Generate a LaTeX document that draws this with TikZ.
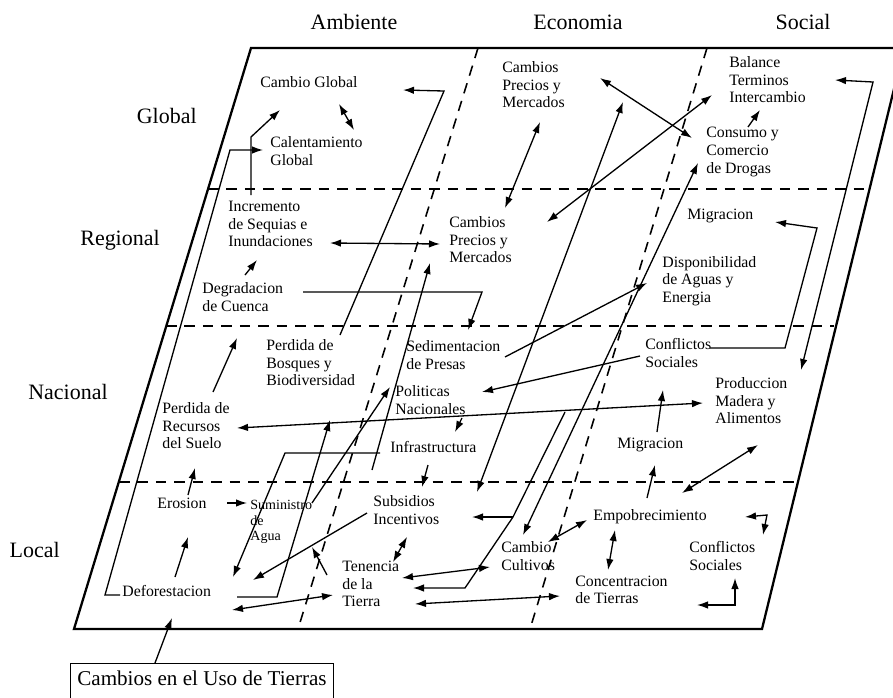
\documentclass[tikz,border=0pt]{standalone}
\usepackage{fontspec}
\setmainfont{Liberation Serif}
\usetikzlibrary{arrows.meta}
\tikzstyle{lbl}=[font=\fontsize{9}{10}\selectfont, align=left, inner sep=0pt, anchor=west]
\tikzstyle{hdr}=[font=\fontsize{12.5}{14}\selectfont, inner sep=0pt]
\tikzstyle{frame}=[line width=1.3pt, line join=miter]
\tikzstyle{sep}=[dash pattern=on 6pt off 4.5pt, line width=0.9pt]
\tikzstyle{wire}=[line width=0.75pt]
\tikzstyle{lnk}=[wire, -{Latex[length=2.2mm,width=1.5mm]}]
\tikzstyle{lnkb}=[wire, {Latex[length=2.2mm,width=1.5mm]}-{Latex[length=2.2mm,width=1.5mm]}]

\begin{document}
\begin{tikzpicture}[x=0.02cm, y=-0.02cm]
  \clip (0,0) rectangle (893,697);
  % Frame and grid
  \coordinate (TL) at (251,48);
  \coordinate (TR) at (904,48);
  \coordinate (BR) at (762,629);
  \coordinate (BL) at (74,629);
  \draw[frame] (TL) -- (TR) -- (BR) -- (BL) -- cycle;
  \draw[sep] (208,189) -- (866,189);
  \draw[sep] (166,326) -- (834,326);
  \draw[sep] (119,482) -- (796,482);
  \draw[sep] (478,48) -- (298,629);
  \draw[sep] (707,48) -- (530,629);
  % Headers
  \node[hdr] (amb) at (354,22) {Ambiente};
  \node[hdr] (eco) at (578,22) {Economia};
  \node[hdr] (soc) at (803,22) {Social};
  \node[hdr, anchor=east] (glo) at (197,116) {Global};
  \node[hdr, anchor=east] (reg) at (160,240) {Regional};
  \node[hdr, anchor=east] (nac) at (108,392) {Nacional};
  \node[hdr, anchor=east] (loc) at (60,550) {Local};
  % Global
  \node[lbl] (cg) at (260,82) {Cambio Global};
  \node[lbl] (cal) at (270,151) {Calentamiento\\Global};
  \node[lbl] (cpg) at (502,85) {Cambios\\Precios y\\Mercados};
  \node[lbl] (bal) at (729,80) {Balance\\Terminos\\Intercambio};
  \node[lbl] (cons) at (706,152) {Consumo y\\Comercio\\de Drogas};
  % Regional
  \node[lbl] (inc) at (228,224) {Incremento\\de Sequias e\\Inundaciones};
  \node[lbl] (deg) at (202,297) {Degradacion\\de Cuenca};
  \node[lbl] (cpr) at (449,240) {Cambios\\Precios y\\Mercados};
  \node[lbl] (migr) at (687,216) {Migracion};
  \node[lbl] (disp) at (662,281) {Disponibilidad\\de Aguas y\\Energia};
  % Nacional
  \node[lbl] (pbos) at (266,363) {Perdida de\\Bosques y\\Biodiversidad};
  \node[lbl] (prec) at (162,426) {Perdida de\\Recursos\\del Suelo};
  \node[lbl] (sed) at (406,355) {Sedimentacion\\de Presas};
  \node[lbl] (pol) at (395,400) {Politicas\\Nacionales};
  \node[lbl] (infra) at (390,447) {Infrastructura};
  \node[lbl] (conn) at (645,353) {Conflictos\\Sociales};
  \node[lbl] (prod) at (715,401) {Produccion\\Madera y\\Alimentos};
  \node[lbl] (mign) at (617,445) {Migracion};
  % Local
  \node[lbl] (ero) at (157,503) {Erosion};
  \node[lbl, font=\fontsize{8}{9}\selectfont] (sum) at (250,522) {Suministro\\de\\Agua};
  \node[lbl] (sub) at (373,510) {Subsidios\\Incentivos};
  \node[lbl] (ten) at (342,584) {Tenencia\\de la\\Tierra};
  \node[lbl] (def) at (122,591) {Deforestacion};
  \node[lbl] (cul) at (501,556) {Cambio\\Cultivos};
  \node[lbl] (emp) at (593,517) {Empobrecimiento};
  \node[lbl] (con) at (575,590) {Concentracion\\de Tierras};
  \node[lbl] (conl) at (689,556) {Conflictos\\Sociales};
  \node[draw, line width=0.6pt, anchor=north west, minimum width=5.26cm,
    font=\fontsize{12}{14}\selectfont, text height=9pt, text depth=10pt,
    inner ysep=3.5pt] (uso) at (70,663) {Cambios en el Uso de Tierras};
  % Connector ends
  \coordinate (uso-t) at (155,663);   \coordinate (def-b) at (172,618);
  \coordinate (def-t) at (175,577);   \coordinate (ero-b) at (188,537);
  \coordinate (ero-t) at (188,495);   \coordinate (prec-b) at (195,468);
  \coordinate (ero-e) at (227,503);   \coordinate (sum-w) at (247,503);
  \coordinate (prec-t) at (213,392);  \coordinate (deg-b) at (237,338);
  \coordinate (deg-t) at (245,275);   \coordinate (inc-b) at (257,260);
  \coordinate (inc-e) at (330,243);   \coordinate (cpr-w) at (440,244);
  \coordinate (deg-e) at (303,292);   \coordinate (k1) at (482,292);
  \coordinate (sed-t) at (468,330);
  \coordinate (pbos-e) at (340,335);  \coordinate (k2) at (444,91);
  \coordinate (cg-e) at (403,90);
  \coordinate (inc-t) at (251,195);   \coordinate (k3) at (251,137);
  \coordinate (cg-s) at (280,110);
  \coordinate (def-w) at (120,595);   \coordinate (k4) at (105,595);
  \coordinate (k5) at (230,150);      \coordinate (cal-w) at (263,150);
  \coordinate (infra-w) at (380,453); \coordinate (k6) at (285,453);
  \coordinate (def-ne) at (233,577);
  \coordinate (def-e) at (237,597);   \coordinate (k7) at (277,597);
  \coordinate (pbos-s) at (330,420);
  \coordinate (def-se) at (232,610);  \coordinate (ten-w) at (333,595);
  \coordinate (sub-w) at (367,513);   \coordinate (sum-s) at (253,580);
  \coordinate (ten-n) at (327,575);   \coordinate (sum-e) at (312,547);
  \coordinate (sub-s) at (407,537);   \coordinate (ten-ne) at (393,562);
  \coordinate (infra-s) at (428,465); \coordinate (sub-n) at (422,487);
  \coordinate (pol-s) at (462,418);   \coordinate (infra-n) at (455,432);
  \coordinate (conn-w) at (640,356);  \coordinate (pol-e) at (482,392);
  \coordinate (sed-e) at (505,357);   \coordinate (disp-w) at (647,283);
  \coordinate (conn-e) at (710,348);  \coordinate (k8) at (785,348);
  \coordinate (k9) at (817,228);      \coordinate (migr-e) at (775,222);
  \coordinate (bal-e) at (835,80);    \coordinate (k10) at (873,82);
  \coordinate (prod-n) at (801,370);
  \coordinate (cons-n) at (748,127);  \coordinate (bal-s) at (760,110);
  \coordinate (prod-s) at (758,445);  \coordinate (emp-ne) at (682,493);
  \coordinate (mign-n) at (657,432);  \coordinate (prod-w) at (663,390);
  \coordinate (emp-n) at (647,498);   \coordinate (mign-s) at (655,465);
  \coordinate (emp-s) at (615,530);   \coordinate (con-n) at (608,570);
  \coordinate (emp-w) at (587,520);   \coordinate (cul-ne) at (548,542);
  \coordinate (conl-a) at (745,517);  \coordinate (k11) at (767,515);
  \coordinate (conl-n) at (763,535);
  \coordinate (conl-b) at (697,605);  \coordinate (k12) at (735,605);
  \coordinate (conl-s) at (735,578);
  \coordinate (con-w) at (560,596);   \coordinate (ten-e) at (415,604);
  \coordinate (cul-w) at (490,567);   \coordinate (ten-e2) at (402,578);
  \coordinate (k13) at (565,412);     \coordinate (k14) at (513,517);
  \coordinate (k15) at (465,588);     \coordinate (ten-e3) at (413,588);
  \coordinate (sub-e) at (472,517);
  \coordinate (cul-n) at (523,535);   \coordinate (cons-s) at (698,163);
  \coordinate (prec-e) at (237,428);  \coordinate (prod-w2) at (703,403);
  \coordinate (cg-se) at (339,104);   \coordinate (cal-n) at (354,130);
  \coordinate (sum-ne) at (312,503);  \coordinate (pol-w) at (390,387);
  \coordinate (k16) at (372,470);     \coordinate (cpr-sw) at (430,263);
  \coordinate (cpg-e) at (600,78);    \coordinate (cons-w) at (692,138);
  \coordinate (cpg-s) at (540,122);   \coordinate (cpr-n) at (505,208);
  \coordinate (sub-ne) at (477,492);  \coordinate (cpg-se) at (623,102);
  \coordinate (cpr-e) at (547,222);   \coordinate (bal-w) at (712,95);
  % Links
  \draw[lnk] (uso-t) -- (def-b);
  \draw[lnk] (def-t) -- (ero-b);
  \draw[lnk] (ero-t) -- (prec-b);
  \draw[lnk] (ero-e) -- (sum-w);
  \draw[lnk] (prec-t) -- (deg-b);
  \draw[lnk] (deg-t) -- (inc-b);
  \draw[lnkb] (inc-e) -- (cpr-w);
  \draw[lnk] (deg-e) -- (k1) -- (sed-t);
  \draw[lnk] (pbos-e) -- (k2) -- (cg-e);
  \draw[lnk] (inc-t) -- (k3) -- (cg-s);
  \draw[lnk] (def-w) -- (k4) -- (k5) -- (cal-w);
  \draw[lnkb] (cg-se) -- (cal-n);
  \draw[lnk] (infra-w) -- (k6) -- (def-ne);
  \draw[lnk] (def-e) -- (k7) -- (pbos-s);
  \draw[lnkb] (def-se) -- (ten-w);
  \draw[lnk] (sub-w) -- (sum-s);
  \draw[lnk] (ten-n) -- (sum-e);
  \draw[lnkb] (sub-s) -- (ten-ne);
  \draw[lnk] (infra-s) -- (sub-n);
  \draw[lnk] (pol-s) -- (infra-n);
  \draw[lnk] (conn-w) -- (pol-e);
  \draw[lnk] (sed-e) -- (disp-w);
  \draw[lnk] (conn-e) -- (k8) -- (k9) -- (migr-e);
  \draw[lnkb] (bal-e) -- (k10) -- (prod-n);
  \draw[lnk] (cons-n) -- (bal-s);
  \draw[lnkb] (prod-s) -- (emp-ne);
  \draw[lnk] (mign-n) -- (prod-w);
  \draw[lnk] (emp-n) -- (mign-s);
  \draw[lnkb] (emp-s) -- (con-n);
  \draw[lnkb] (emp-w) -- (cul-ne);
  \draw[lnkb] (conl-a) -- (k11) -- (conl-n);
  \draw[lnkb] (conl-b) -- (k12) -- (conl-s);
  \draw[lnkb] (con-w) -- (ten-e);
  \draw[lnkb] (cul-w) -- (ten-e2);
  \draw[lnk] (k13) -- (k14) -- (k15) -- (ten-e3);
  \draw[lnk] (k14) -- (sub-e);
  \draw[lnkb] (cul-n) -- (cons-s);
  \draw[lnkb] (prec-e) -- (prod-w2);
  \draw[lnk] (sum-ne) -- (pol-w);
  \draw[lnk] (k16) -- (cpr-sw);
  \draw[lnkb] (cpg-e) -- (cons-w);
  \draw[lnkb] (cpg-s) -- (cpr-n);
  \draw[lnkb] (sub-ne) -- (cpg-se);
  \draw[lnkb] (cpr-e) -- (bal-w);
\end{tikzpicture}
\end{document}
